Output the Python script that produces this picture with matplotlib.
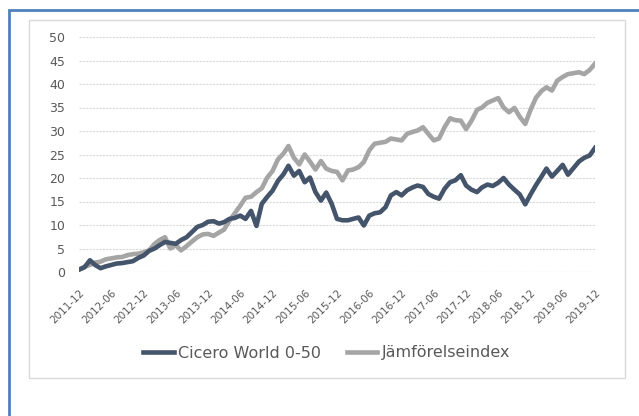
import pandas as pd
import matplotlib
matplotlib.use("Agg")
import matplotlib.pyplot as plt
import matplotlib.dates as mdates
from matplotlib.patches import Rectangle

# monthly readings, 2011-12 .. 2019-12
months = pd.date_range("2011-12-01", "2019-12-01", freq="MS")

cicero = [0.5, 1.0, 2.5, 1.5, 0.8, 1.2, 1.5, 1.8, 1.9, 2.1, 2.3, 3.0,
          3.5, 4.5, 5.0, 5.7, 6.4, 6.2, 6.0, 6.8, 7.4, 8.5, 9.6, 10.0,
          10.7, 10.8, 10.3, 10.6, 11.3, 11.5, 12.0, 11.3, 13.0, 9.8, 14.5, 16.0,
          17.3, 19.4, 20.8, 22.6, 20.5, 21.5, 19.1, 20.1, 17.0, 15.2, 16.9, 14.5,
          11.3, 11.0, 11.0, 11.3, 11.6, 9.9, 12.0, 12.5, 12.7, 13.8, 16.3, 17.0,
          16.3, 17.4, 18.0, 18.4, 18.1, 16.6, 16.0, 15.6, 17.7, 19.1, 19.5, 20.6,
          18.4, 17.5, 17.0, 18.0, 18.6, 18.3, 19.0, 20.0, 18.6, 17.5, 16.5, 14.4,
          16.5, 18.5, 20.3, 22.0, 20.3, 21.5, 22.8, 20.7, 22.1, 23.5, 24.3, 24.8,
          26.4]

jamfor = [0.5, 1.1, 1.5, 2.0, 2.2, 2.7, 2.9, 3.1, 3.2, 3.6, 3.8, 3.9,
          4.2, 4.6, 6.0, 6.8, 7.4, 5.0, 5.7, 4.6, 5.5, 6.5, 7.4, 8.0,
          8.1, 7.7, 8.4, 9.0, 10.9, 12.5, 14.1, 15.8, 16.0, 17.0, 17.8, 20.1,
          21.5, 24.0, 25.2, 26.8, 24.3, 22.9, 25.0, 23.5, 21.8, 23.6, 22.0, 21.5,
          21.3, 19.5, 21.6, 21.8, 22.3, 23.4, 25.9, 27.3, 27.5, 27.7, 28.4, 28.2,
          28.0, 29.4, 29.8, 30.1, 30.8, 29.4, 28.0, 28.4, 30.8, 32.7, 32.3, 32.2,
          30.4, 32.2, 34.5, 35.0, 36.0, 36.5, 37.0, 35.0, 34.0, 34.9, 33.0, 31.5,
          34.5, 37.1, 38.5, 39.3, 38.6, 40.7, 41.5, 42.1, 42.3, 42.5, 42.1, 43.0,
          44.3]

navy = "#44546a"
grey = "#a5a5a5"
txt = "#595959"

fig = plt.figure(figsize=(6.39, 4.16), dpi=100)

# outer blue frame and inner chart box
fig.patches.append(Rectangle((9 / 639, -0.05), 1.1, 1 - 10 / 416 + 0.05,
                             transform=fig.transFigure, fill=False,
                             edgecolor="#4f81bd", linewidth=2))
fig.patches.append(Rectangle((29 / 639, 1 - 378 / 416), 596 / 639, 358 / 416,
                             transform=fig.transFigure, fill=False,
                             edgecolor="#d9d9d9", linewidth=1))

ax = fig.add_axes([79 / 639, 1 - 272 / 416, 516 / 639, 235 / 416])
ax.plot(months, cicero, color=navy, lw=3.3, label="Cicero World 0-50", zorder=3)
ax.plot(months, jamfor, color=grey, lw=3.3, label="Jämförelseindex", zorder=2)

ax.set_ylim(0, 50)
ax.set_yticks(range(0, 51, 5))
ax.set_xlim(months[0], months[-1])
ax.xaxis.set_major_locator(mdates.MonthLocator(bymonth=[6, 12]))
ax.xaxis.set_major_formatter(mdates.DateFormatter("%Y-%m"))
for lab in ax.get_xticklabels():
    lab.set_rotation(45)
    lab.set_ha("right")
    lab.set_rotation_mode("anchor")

ax.grid(axis="y", color="#d9d9d9", linestyle=(0, (2, 1)), linewidth=0.8)
ax.set_axisbelow(True)
for s in ax.spines.values():
    s.set_visible(False)
ax.tick_params(length=0, colors=txt)
ax.tick_params(axis="y", labelsize=9, pad=10)
ax.tick_params(axis="x", labelsize=7.5, pad=11)

fig.legend(loc="center", bbox_to_anchor=(327 / 639, 1 - 353 / 416), ncol=2,
           frameon=False, fontsize=11.5, labelcolor=txt, handlelength=1.9,
           handletextpad=0.3, columnspacing=1.6)

fig.savefig("out.png", dpi=100)
